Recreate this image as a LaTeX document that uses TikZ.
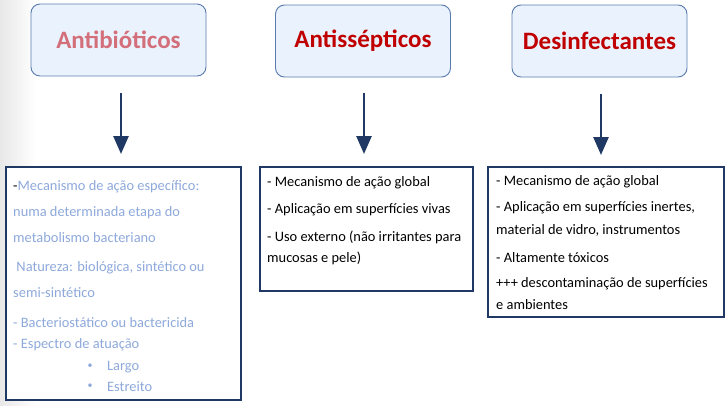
\documentclass[tikz,border=0pt]{standalone}
\usepackage{fontspec}
\setmainfont{Carlito}
\usetikzlibrary{arrows.meta}
\definecolor{topfill}{HTML}{EAF3FD}
\definecolor{topedge}{HTML}{5A7AAE}
\definecolor{navy}{HTML}{1F3864}
\definecolor{pinkt}{HTML}{D36F7B}
\definecolor{redt}{HTML}{C00000}
\definecolor{lightb}{HTML}{8EA9DB}
\tikzset{
  x=1pt,y=-1pt,
  head/.style={draw=topedge,line width=0.9pt,fill=topfill,rounded corners=9pt,
    minimum width=175pt,minimum height=72pt,font=\fontsize{25}{30}\selectfont\bfseries,inner sep=0pt},
  panel/.style={draw=navy,line width=1.1pt,fill=white},
  txt/.style={anchor=west,inner sep=0pt,font=\fontsize{14.4}{17}\selectfont},
  bul/.style={inner sep=0pt,font=\fontsize{10}{12}\selectfont,text=lightb},
  arr/.style={draw=navy,line width=2.6pt,-{Triangle[length=18pt,width=15pt]}},
}
\begin{document}
\begin{tikzpicture}
\useasboundingbox (0,0) rectangle (728,405);
\shade[left color=black!9,right color=white] (0,0) rectangle (36,405);
% header boxes
\node[head,text=pinkt] (h1) at (118.5,40) {Antibióticos};
\node[head,text=redt] (h2) at (363,41) {Antissépticos};
\node[head,text=redt] (h3) at (599.5,41) {Desinfectantes};
% panels
\node[panel,minimum width=235pt,minimum height=233pt,inner sep=0pt] (p1) at (123.5,283.5) {};
\node[panel,minimum width=213pt,minimum height=124pt,inner sep=0pt] (p2) at (366.5,229) {};
\node[panel,minimum width=236pt,minimum height=150pt,inner sep=0pt] (p3) at (606,242) {};
% arrows
\coordinate (a1s) at (121,93);
\coordinate (a1e) at (121,154);
\coordinate (a2s) at (364,93);
\coordinate (a2e) at (364,154);
\coordinate (a3s) at (601,94);
\coordinate (a3e) at (601,155);
\draw[arr] (a1s) -- (a1e);
\draw[arr] (a2s) -- (a2e);
\draw[arr] (a3s) -- (a3e);
% panel 1 text
\begin{scope}[every node/.style={txt,text=lightb}]
\node (t11) at (13,187) {\textcolor{black}{-}Mecanismo de ação específico:};
\node (t12) at (13,213) {numa determinada etapa do};
\node (t13) at (13,238) {metabolismo bacteriano};
\node (t14) at (13,268) {\ Natureza: biológica, sintético ou};
\node (t15) at (13,293) {semi-sintético};
\node (t16) at (13,323) {- Bacteriostático ou bactericida};
\node (t17) at (13,345) {- Espectro de atuação};
\node (t18) at (107,367) {Largo};
\node (t19) at (107,387) {Estreito};
\end{scope}
\node[bul] (b1) at (90,366) {•};
\node[bul] (b2) at (90,386) {•};
% panel 2 text
\begin{scope}[every node/.style={txt,text=black}]
\node (t21) at (267,183) {- Mecanismo de ação global};
\node (t22) at (267,210) {- Aplicação em superfícies vivas};
\node (t23) at (267,237) {- Uso externo (não irritantes para};
\node (t24) at (267,258) {mucosas e pele)};
% panel 3 text
\node (t31) at (496,182) {- Mecanismo de ação global};
\node (t32) at (496,208) {- Aplicação em superfícies inertes,};
\node (t33) at (496,230) {material de vidro, instrumentos};
\node (t34) at (496,258) {- Altamente tóxicos};
\node (t35) at (496,284) {+++ descontaminação de superfícies};
\node (t36) at (496,305) {e ambientes};
\end{scope}
\end{tikzpicture}
\end{document}
